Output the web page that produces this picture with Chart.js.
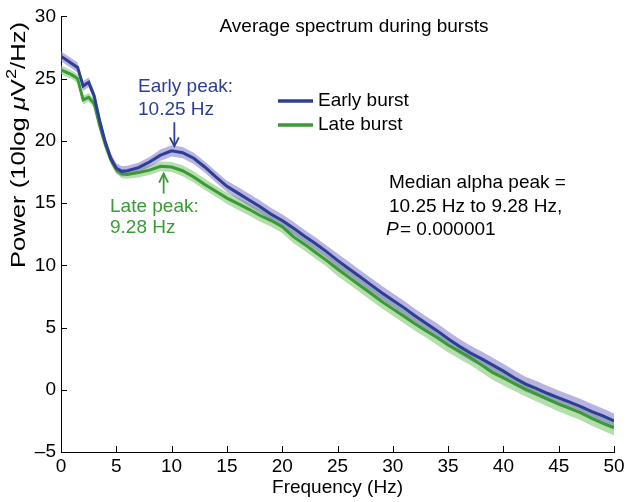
<!DOCTYPE html>
<html>
<head>
<meta charset="utf-8">
<script src="https://cdn.jsdelivr.net/npm/chart.js@4.4.0/dist/chart.umd.min.js"></script>
<style>
  html, body { margin: 0; padding: 0; background: #fff; }
</style>
</head>
<body>
<canvas id="spectrum" width="633" height="502"></canvas>
<script>
// frequency grid (Hz)
const freqs = [0, 0.5, 1, 1.5, 2, 2.5, 3, 3.5, 4, 4.5, 5, 5.5, 6,
     7, 8, 9, 10, 11, 12, 13, 14, 15, 16, 17, 18, 19, 20,
     21, 22, 23, 24, 25, 26, 27, 28, 29, 30, 31, 32, 33, 34, 35,
     36, 37, 38, 39, 40, 41, 42, 43, 44, 45, 46, 47, 48, 49, 50]

// mean power of the early bursts (dB)
const earlyPower = [26.8, 26.5, 26.2, 25.9, 24.4, 24.7, 23.6, 21.6, 19.9, 18.6, 17.8, 17.55, 17.6,
     17.85, 18.3, 18.85, 19.2, 19.05, 18.6, 17.9, 17.1, 16.35, 15.8, 15.25, 14.7, 14.1, 13.6,
     13.0, 12.35, 11.75, 11.1, 10.4, 9.75, 9.1, 8.45, 7.8, 7.2, 6.6, 5.95, 5.35, 4.75, 4.1,
     3.5, 2.95, 2.5, 2.0, 1.5, 0.95, 0.45, 0.1, -0.3, -0.65, -1.0, -1.35, -1.75, -2.1, -2.5]

// mean power of the late bursts (dB)
const latePower = [25.7, 25.5, 25.3, 25.0, 23.3, 23.5, 23.0, 21.2, 19.7, 18.5, 17.7, 17.35, 17.3,
     17.45, 17.65, 17.95, 17.9, 17.6, 17.1, 16.5, 15.95, 15.4, 14.95, 14.5, 14.0, 13.6, 13.1,
     12.3, 11.7, 11.05, 10.4, 9.7, 9.05, 8.4, 7.75, 7.1, 6.5, 5.9, 5.3, 4.75, 4.2, 3.6,
     3.1, 2.6, 2.0, 1.4, 0.95, 0.5, 0.05, -0.35, -0.75, -1.15, -1.5, -1.85, -2.3, -2.7, -3.05]

// half width of the shaded bands (dB)
const earlySem = [0.4, 0.4, 0.4, 0.4, 0.4, 0.4, 0.4, 0.4, 0.4, 0.4, 0.4, 0.4, 0.4,
     0.4, 0.4, 0.45, 0.45, 0.45, 0.45, 0.45, 0.45, 0.45, 0.5, 0.5, 0.5, 0.5, 0.5,
     0.5, 0.5, 0.5, 0.5, 0.55, 0.55, 0.55, 0.55, 0.55, 0.55, 0.55, 0.55, 0.55, 0.6, 0.6,
     0.6, 0.6, 0.6, 0.6, 0.6, 0.6, 0.6, 0.6, 0.6, 0.6, 0.6, 0.6, 0.6, 0.6, 0.6]
const lateSem = [0.35, 0.35, 0.35, 0.35, 0.35, 0.35, 0.35, 0.35, 0.35, 0.35, 0.35, 0.35, 0.35,
     0.4, 0.4, 0.4, 0.4, 0.45, 0.45, 0.45, 0.45, 0.45, 0.5, 0.5, 0.5, 0.5, 0.5,
     0.5, 0.5, 0.5, 0.5, 0.55, 0.55, 0.55, 0.55, 0.55, 0.55, 0.55, 0.55, 0.55, 0.6, 0.6,
     0.6, 0.6, 0.6, 0.6, 0.6, 0.6, 0.6, 0.6, 0.6, 0.6, 0.6, 0.6, 0.6, 0.6, 0.6]

const xTicks = [0, 5, 10, 15, 20, 25, 30, 35, 40, 45, 50]
const yTicks = [-5, 0, 5, 10, 15, 20, 25, 30]

const earlyPeak = 10.25
const latePeak = 9.28

const blue = '#2c3e96'
const green = '#3a9b35'
const fontFamily = "'Liberation Sans', Arial, Helvetica, sans-serif"

const toPoints = (vals) => vals.map((v, i) => ({ x: freqs[i], y: v }))
const shift = (vals, sem, sign) => vals.map((v, i) => ({ x: freqs[i], y: v + sign * sem[i] }))

// interpolate a curve at a given frequency (for arrow placement)
function valueAt(vals, f) {
     for (let i = 0; i < freqs.length - 1; i++) {
          if (f >= freqs[i] && f <= freqs[i + 1]) {
               const t = (f - freqs[i]) / (freqs[i + 1] - freqs[i])
               return vals[i] + t * (vals[i + 1] - vals[i])
          }
     }
     return vals[vals.length - 1]
}

function arrow(ctx, x, yTail, yTip, color) {
     ctx.save()
     ctx.strokeStyle = color
     ctx.lineWidth = 1.8
     ctx.beginPath()
     ctx.moveTo(x, yTail)
     ctx.lineTo(x, yTip)
     ctx.stroke()
     const dir = yTip > yTail ? 1 : -1
     ctx.beginPath()
     ctx.moveTo(x - 4.5, yTip - dir * 8)
     ctx.lineTo(x, yTip + dir * 1)
     ctx.lineTo(x + 4.5, yTip - dir * 8)
     ctx.stroke()
     ctx.restore()
}

// y axis title with italic mu and superscript 2, drawn bottom to top
// and stretched along its length to span the same height as the original
function yTitle(ctx, cx, yBottom, yTop) {
     const parts = [
          { t: 'Power (10log ', f: '21px ' + fontFamily, dy: 0 },
          { t: 'μ', f: 'italic 21px ' + fontFamily, dy: 0 },
          { t: 'V', f: '21px ' + fontFamily, dy: 0 },
          { t: '2', f: '15px ' + fontFamily, dy: -7 },
          { t: '/Hz)', f: '21px ' + fontFamily, dy: 0 },
     ]
     ctx.save()
     let total = 0
     parts.forEach(p => { ctx.font = p.f; total += ctx.measureText(p.t).width })
     ctx.translate(cx, yBottom)
     ctx.rotate(-Math.PI / 2)
     ctx.scale((yBottom - yTop) / total, 1)
     ctx.fillStyle = '#000'
     ctx.textAlign = 'left'
     ctx.textBaseline = 'middle'
     let pos = 0
     parts.forEach(p => {
          ctx.font = p.f
          ctx.fillText(p.t, pos, p.dy)
          pos += ctx.measureText(p.t).width
     })
     ctx.restore()
}

// inward tick marks, legend and annotation texts
const decorations = {
     id: 'decorations',
     afterDraw(chart) {
          const { ctx, chartArea, scales: { x, y } } = chart
          ctx.save()
          ctx.strokeStyle = '#000'
          ctx.lineWidth = 1
          xTicks.forEach(v => {
               const px = Math.round(x.getPixelForValue(v)) + 0.5
               ctx.beginPath()
               ctx.moveTo(px, chartArea.bottom)
               ctx.lineTo(px, chartArea.bottom - 6)
               ctx.stroke()
          })
          yTicks.forEach(v => {
               const py = Math.round(y.getPixelForValue(v)) + 0.5
               ctx.beginPath()
               ctx.moveTo(chartArea.left, py)
               ctx.lineTo(chartArea.left + 6, py)
               ctx.stroke()
          })

          yTitle(ctx, 19, 268, 22)

          ctx.font = '19px ' + fontFamily
          ctx.textBaseline = 'middle'

          // title
          ctx.fillStyle = '#000'
          ctx.textAlign = 'center'
          ctx.fillText('Average spectrum during bursts', 354, 27)

          // legend
          ctx.textAlign = 'left'
          ctx.lineWidth = 3.5
          ctx.strokeStyle = blue
          ctx.beginPath(); ctx.moveTo(278, 101); ctx.lineTo(313, 101); ctx.stroke()
          ctx.strokeStyle = green
          ctx.beginPath(); ctx.moveTo(278, 125); ctx.lineTo(313, 125); ctx.stroke()
          ctx.fillText('Early burst', 318, 101)
          ctx.fillText('Late burst', 318, 125)

          // statistics
          ctx.fillText('Median alpha peak =', 389, 183)
          ctx.fillText('10.25 Hz to 9.28 Hz,', 389, 207)
          ctx.font = 'italic 19px ' + fontFamily
          ctx.fillText('P', 386, 230)
          ctx.font = '19px ' + fontFamily
          ctx.fillText('= 0.000001', 400, 230)

          // peak labels
          ctx.fillStyle = blue
          ctx.fillText('Early peak:', 138, 87)
          ctx.fillText('10.25 Hz', 138, 110)
          ctx.fillStyle = green
          ctx.fillText('Late peak:', 110, 207)
          ctx.fillText('9.28 Hz', 110, 228)

          const ex = x.getPixelForValue(earlyPeak)
          const ey = y.getPixelForValue(valueAt(earlyPower, earlyPeak))
          arrow(ctx, ex, ey - 29, ey - 6, blue)
          const lx = x.getPixelForValue(latePeak)
          const ly = y.getPixelForValue(valueAt(latePower, latePeak))
          arrow(ctx, lx, ly + 27, ly + 8, green)
          ctx.restore()
     }
}

const spectrumChart = new Chart(document.getElementById('spectrum').getContext('2d'), {
     type: 'line',
     data: {
          datasets: [
               { data: toPoints(earlyPower), borderColor: blue, borderWidth: 3, pointRadius: 0, fill: false },
               { data: toPoints(latePower), borderColor: green, borderWidth: 3, pointRadius: 0, fill: false },
               { data: shift(earlyPower, earlySem, 1), borderWidth: 0, pointRadius: 0, fill: false },
               { data: shift(earlyPower, earlySem, -1), borderWidth: 0, pointRadius: 0, fill: 2, backgroundColor: 'rgba(126, 116, 196, 0.55)' },
               { data: shift(latePower, lateSem, 1), borderWidth: 0, pointRadius: 0, fill: false },
               { data: shift(latePower, lateSem, -1), borderWidth: 0, pointRadius: 0, fill: 4, backgroundColor: 'rgba(132, 200, 118, 0.6)' },
          ]
     },
     options: {
          responsive: false,
          animation: false,
          events: [],
          layout: { padding: { left: 0, top: 16, right: 19, bottom: 0 } },
          plugins: {
               legend: { display: false },
               tooltip: { enabled: false }
          },
          scales: {
               x: {
                    type: 'linear',
                    min: 0,
                    max: 50,
                    afterFit: (scale) => { scale.height = 50 },
                    afterBuildTicks: (scale) => { scale.ticks = xTicks.map(v => ({ value: v })) },
                    grid: { display: false, drawTicks: false },
                    border: { color: '#000', width: 1 },
                    ticks: { color: '#000', padding: 3, font: { family: fontFamily, size: 19 }, maxRotation: 0 },
                    title: { display: true, text: 'Frequency (Hz)', color: '#000', font: { family: fontFamily, size: 19 }, padding: { top: 0, bottom: 3 } }
               },
               y: {
                    min: -5,
                    max: 30,
                    afterFit: (scale) => { scale.width = 61 },
                    afterBuildTicks: (scale) => { scale.ticks = yTicks.map(v => ({ value: v })) },
                    grid: { display: false, drawTicks: false },
                    border: { color: '#000', width: 1 },
                    ticks: {
                         color: '#000',
                         padding: 5,
                         font: { family: fontFamily, size: 19 },
                         callback: (v) => String(v).replace('-', '\u2013')
                    }
               }
          }
     },
     plugins: [decorations]
})
</script>
</body>
</html>
